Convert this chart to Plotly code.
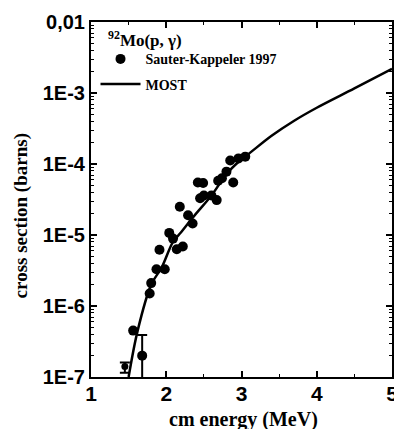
import plotly.graph_objects as go

# Measured data (Sauter-Kappeler 1997)
energy = [1.56, 1.78, 1.80, 1.87, 1.91, 1.98, 2.04, 2.09, 2.14, 2.22, 2.18, 2.29,
          2.35, 2.42, 2.49, 2.45, 2.50, 2.60, 2.67, 2.69, 2.74, 2.80, 2.89, 2.85,
          2.96, 3.05]
sigma = [4.5e-7, 1.5e-6, 2.1e-6, 3.3e-6, 6.2e-6, 3.3e-6, 1.07e-5, 8.9e-6, 6.3e-6,
         6.9e-6, 2.5e-5, 1.9e-5, 1.45e-5, 5.5e-5, 5.4e-5, 3.3e-5, 3.6e-5, 3.6e-5,
         3.1e-5, 5.8e-5, 6.3e-5, 7.8e-5, 5.5e-5, 1.12e-4, 1.2e-4, 1.27e-4]

# points with error bars
err_energy = [1.45, 1.68]
err_sigma = [1.4e-7, 2.0e-7]
err_plus = [0.2e-7, 1.9e-7]
err_minus = [0.25e-7, 1.95e-7]

# MOST calculation
most_energy = [1.50, 1.62, 1.80, 1.94, 2.09, 2.20, 2.36, 2.60, 2.80, 2.95, 3.10,
               3.40, 3.70, 4.00, 4.50, 5.00]
most_sigma = [1.0e-7, 4.5e-7, 2.0e-6, 3.5e-6, 8.0e-6, 1.1e-5, 1.8e-5, 3.6e-5,
              7.2e-5, 1.05e-4, 1.4e-4, 2.5e-4, 4.07e-4, 6.2e-4, 1.16e-3, 2.19e-3]

x_ticks = [1, 2, 3, 4, 5]
y_ticks = [1e-7, 1e-6, 1e-5, 1e-4, 1e-3, 1e-2]
y_ticktext = ["1E-7", "1E-6", "1E-5", "1E-4", "1E-3", "0,01"]

fig = go.Figure()
fig.add_trace(go.Scatter(
    x=energy, y=sigma, mode="markers", name="<b>Sauter-Kappeler 1997</b>",
    marker=dict(color="black", size=10, opacity=1), legendgroup="a"))
fig.add_trace(go.Scatter(
    x=err_energy, y=err_sigma, mode="markers", showlegend=False,
    marker=dict(color="black", size=[7, 10], opacity=1,
                line=dict(color="black", width=0)),
    error_y=dict(type="data", symmetric=False, array=err_plus,
                 arrayminus=err_minus, color="black", thickness=2, width=5)))
fig.add_trace(go.Scatter(
    x=most_energy, y=most_sigma, mode="lines", name="<b>MOST</b>",
    line=dict(color="black", width=2.5, shape="spline"), legendgroup="b"))

minor_y = [m * 10 ** e for e in range(-7, -2) for m in range(2, 10)]
minor_x = [1.5, 2.5, 3.5, 4.5]

axis_common = dict(showline=True, linecolor="black", linewidth=2, mirror="allticks",
                   ticks="inside", ticklen=6, tickwidth=1.5, tickcolor="black",
                   showgrid=False, zeroline=False, automargin=False)

fig.update_xaxes(range=[1, 5], tickvals=x_ticks, ticktext=["<b>%d</b>" % v for v in x_ticks],
                 tickfont=dict(family="Liberation Sans", size=21, color="black"),
                 ticklabelstandoff=-3,
                 minor=dict(tickvals=minor_x, ticks="inside", ticklen=3, tickcolor="black", tickwidth=1.2),
                 **axis_common)
fig.update_yaxes(type="log", range=[-7, -2], tickvals=y_ticks,
                 ticktext=["<b>%s</b>" % t for t in y_ticktext],
                 tickfont=dict(family="Liberation Sans", size=20, color="black"),
                 minor=dict(tickvals=minor_y, ticks="inside", ticklen=3, tickcolor="black", tickwidth=1.2),
                 **axis_common)

fig.add_annotation(text="<b>cross section (barns)</b>", textangle=-90,
                   xref="paper", yref="paper", x=-0.234, y=0.454,
                   xanchor="center", yanchor="middle", showarrow=False,
                   font=dict(family="Liberation Serif", size=19, color="black"))
fig.add_annotation(text="<b>cm energy (MeV)</b>",
                   xref="paper", yref="paper", x=0.505, y=-0.121,
                   xanchor="center", yanchor="middle", showarrow=False,
                   font=dict(family="Liberation Serif", size=20, color="black"))
fig.add_annotation(text="<b><sup>92</sup>Mo(p, γ)</b>", xref="paper", yref="paper",
                   x=0.05, y=0.952, xanchor="left", yanchor="middle", showarrow=False,
                   font=dict(family="Liberation Serif", size=17, color="black"))

# page body has an 8px default margin: size/margins compensate so the plot
# area lands at x 91..392, y 22..377 in the browser window
fig.update_layout(
    width=394, height=421,
    margin=dict(l=83, r=10, t=14, b=52),
    paper_bgcolor="white", plot_bgcolor="white",
    showlegend=True,
    legend=dict(x=0.015, y=0.94, xanchor="left", yanchor="top", bgcolor="rgba(0,0,0,0)",
                itemwidth=40, tracegroupgap=4,
                font=dict(family="Liberation Serif", size=14, color="black")),
)

fig.write_html("out.html")
